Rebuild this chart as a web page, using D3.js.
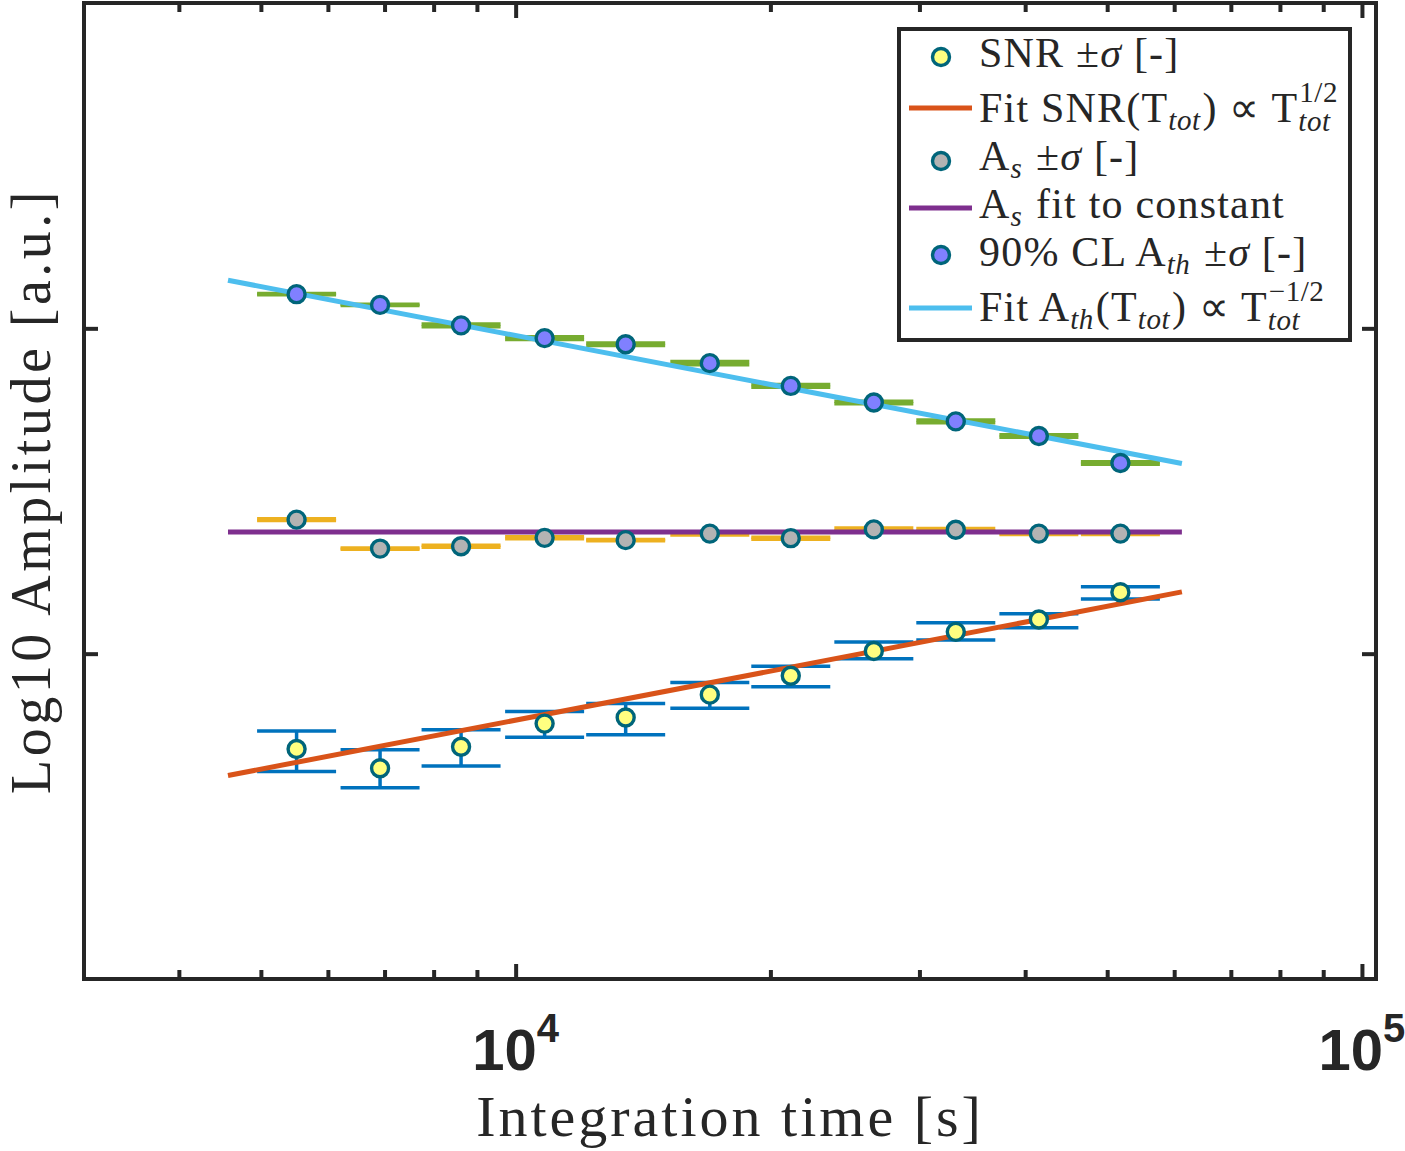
<!DOCTYPE html>
<html>
<head>
<meta charset="utf-8">
<title>SNR and amplitude vs integration time</title>
<script src="https://cdn.jsdelivr.net/npm/d3@7"></script>
<style>
  body { margin: 0; background: #fff; }
  svg { display: block; }
  .serif { font-family: "Liberation Serif", "Times New Roman", serif; fill: #262626; white-space: pre; }
  .ticklab { font-family: "Liberation Sans", Arial, sans-serif; font-weight: bold; fill: #262626; }
  .tick line { stroke: #262626; stroke-width: 4; }
</style>
</head>
<body>
<svg width="1405" height="1151"></svg>
<script>
// values (y values are log10 amplitude)
var timeS   = [5510, 6915, 8620, 10820, 13490, 16960, 21140, 26500, 33120, 41520, 51830];
var snr     = [0.707, 0.648, 0.714, 0.785, 0.804, 0.874, 0.932, 1.008, 1.067, 1.105, 1.189];
var snrLo   = [0.638, 0.588, 0.655, 0.743, 0.751, 0.832, 0.898, 0.984, 1.042, 1.080, 1.168];
var snrHi   = [0.762, 0.705, 0.766, 0.822, 0.847, 0.911, 0.961, 1.036, 1.095, 1.123, 1.206];
var ampS    = [1.412, 1.323, 1.330, 1.356, 1.349, 1.369, 1.355, 1.382, 1.381, 1.369, 1.369];
var ampSErr = [0.003, 0.002, 0.003, 0.003, 0.002, 0.004, 0.003, 0.004, 0.004, 0.003, 0.003];
var aTh     = [2.105, 2.072, 2.009, 1.970, 1.951, 1.893, 1.823, 1.772, 1.714, 1.669, 1.586];
var aThErr  = [0.002, 0.002, 0.004, 0.004, 0.004, 0.005, 0.004, 0.004, 0.004, 0.004, 0.004];

var fitT     = [4572, 61270];
var snrFit   = [0.6255, 1.1898];
var ampSFit  = [1.3738, 1.3738];
var aThFit   = [2.1477, 1.5846];

var xMajor = [1e4, 1e5];
var xMinor = [4000, 5000, 6000, 7000, 8000, 9000, 20000, 30000, 40000, 50000, 60000, 70000, 80000, 90000];
var xMajorExp = ["4", "5"];
var yTicks = [1, 2];

var svg = d3.select("svg");
var L = 84, R = 1376, T = 3, B = 979;

var x = d3.scaleLog().domain([3090, 103900]).range([L, R]);
var y = d3.scaleLinear().domain([0, 3]).range([B, T]);

var edge = "#00657a";
var capHalf = 39.5;

// ticks (inward, no labels)
function tickAxis(axis, tx, ty) {
  var g = svg.append("g").attr("transform", "translate(" + tx + "," + ty + ")").call(axis);
  g.select(".domain").remove();
  g.selectAll("text").remove();
  return g;
}
tickAxis(d3.axisBottom(x).tickValues(xMinor).tickSize(-9).tickFormat(""), 0, B);
tickAxis(d3.axisBottom(x).tickValues(xMajor).tickSize(-15).tickFormat(""), 0, B);
tickAxis(d3.axisTop(x).tickValues(xMinor).tickSize(-9).tickFormat(""), 0, T);
tickAxis(d3.axisTop(x).tickValues(xMajor).tickSize(-15).tickFormat(""), 0, T);
tickAxis(d3.axisLeft(y).tickValues(yTicks).tickSize(-14).tickFormat(""), L, 0);
tickAxis(d3.axisRight(y).tickValues(yTicks).tickSize(-14).tickFormat(""), R, 0);

// x tick labels 10^n
xMajor.forEach(function (v, i) {
  var t = svg.append("text").attr("class", "ticklab")
    .attr("x", x(v)).attr("y", 1070).attr("text-anchor", "middle")
    .style("font-size", "58px");
  t.append("tspan").text("10");
  t.append("tspan").attr("dy", -28).style("font-size", "40px").text(xMajorExp[i]);
});

// error bars
function errorBars(lo, hi, color, w) {
  var g = svg.append("g").attr("stroke", color).attr("stroke-width", w).attr("fill", "none");
  timeS.forEach(function (t, i) {
    var cx = x(t);
    g.append("line").attr("x1", cx).attr("x2", cx).attr("y1", y(lo[i])).attr("y2", y(hi[i]));
    g.append("line").attr("x1", cx - capHalf).attr("x2", cx + capHalf).attr("y1", y(lo[i])).attr("y2", y(lo[i]));
    g.append("line").attr("x1", cx - capHalf).attr("x2", cx + capHalf).attr("y1", y(hi[i])).attr("y2", y(hi[i]));
  });
}
errorBars(snrLo, snrHi, "#0072bd", 3.5);
errorBars(ampS.map(function (v, i) { return v - ampSErr[i]; }),
          ampS.map(function (v, i) { return v + ampSErr[i]; }), "#edb120", 3.5);
errorBars(aTh.map(function (v, i) { return v - aThErr[i]; }),
          aTh.map(function (v, i) { return v + aThErr[i]; }), "#77ac30", 3.5);

// fit lines
var line = d3.line().x(function (d) { return x(d[0]); }).y(function (d) { return y(d[1]); });
function fit(vals, color) {
  svg.append("path").datum(fitT.map(function (t, i) { return [t, vals[i]]; }))
    .attr("d", line).attr("fill", "none").attr("stroke", color).attr("stroke-width", 5);
}
fit(snrFit, "#d95319");
fit(ampSFit, "#7e2f8e");
fit(aThFit, "#4dbeee");

// markers
function markers(vals, fill) {
  svg.append("g").selectAll("circle").data(vals).enter().append("circle")
    .attr("cx", function (d, i) { return x(timeS[i]); })
    .attr("cy", function (d) { return y(d); })
    .attr("r", 8.5).attr("fill", fill).attr("stroke", edge).attr("stroke-width", 3.4);
}
markers(snr, "#ffff80");
markers(ampS, "#b3b3b3");
markers(aTh, "#8080ff");

// axes box
svg.append("rect").attr("x", L).attr("y", T).attr("width", R - L).attr("height", B - T)
  .attr("fill", "none").attr("stroke", "#262626").attr("stroke-width", 4);

// axis labels
svg.append("text").attr("class", "serif").attr("x", (L + R) / 2).attr("y", 1136)
  .attr("text-anchor", "middle").style("font-size", "58px").style("letter-spacing", "3px")
  .text("Integration time [s]");
svg.append("text").attr("class", "serif")
  .attr("transform", "translate(50," + ((T + B) / 2) + ") rotate(-90)")
  .attr("text-anchor", "middle").style("font-size", "56px").style("letter-spacing", "3.5px")
  .text("Log10 Amplitude [a.u.]");

// legend
var lg = svg.append("g");
lg.append("rect").attr("x", 899).attr("y", 29).attr("width", 451).attr("height", 311)
  .attr("fill", "#fff").attr("stroke", "#262626").attr("stroke-width", 4);

function put(s, px, py, size, italic) {
  var t = lg.append("text").attr("class", "serif").attr("x", px).attr("y", py)
    .style("font-size", size + "px").style("letter-spacing", size > 32 ? "1.2px" : "0.5px")
    .style("font-style", italic ? "italic" : "normal").text(s);
  return t.node().getComputedTextLength();
}
function mathLine(px, py, parts) {
  var cx = px;
  parts.forEach(function (p) {
    if (p.stack) {
      var a = put(p.sup, cx + 1, py - 20, 29, false);
      var b = put(p.sub, cx, py + 9, 29, true);
      cx += Math.max(a, b);
    } else if (p.sub) {
      cx += put(p.sub, cx, py + 8, 29, true) + 2;
    } else {
      cx += put(p.t, cx, py, 42, p.it);
    }
  });
}

var rows = [
  { y: 57, base: 67, kind: "m", fill: "#ffff80",
    parts: [{ t: "SNR ±" }, { t: "σ", it: true }, { t: " [-]" }] },
  { y: 108, base: 122, kind: "l", color: "#d95319",
    parts: [{ t: "Fit SNR(T" }, { sub: "tot" }, { t: ") ∝ T" }, { stack: true, sup: "1/2", sub: "tot" }] },
  { y: 161, base: 170, kind: "m", fill: "#b3b3b3",
    parts: [{ t: "A" }, { sub: "s" }, { t: " ±" }, { t: "σ", it: true }, { t: " [-]" }] },
  { y: 208, base: 218, kind: "l", color: "#7e2f8e",
    parts: [{ t: "A" }, { sub: "s" }, { t: " fit to constant" }] },
  { y: 255, base: 266, kind: "m", fill: "#8080ff",
    parts: [{ t: "90% CL A" }, { sub: "th" }, { t: " ±" }, { t: "σ", it: true }, { t: " [-]" }] },
  { y: 308, base: 321, kind: "l", color: "#4dbeee",
    parts: [{ t: "Fit A" }, { sub: "th" }, { t: "(T" }, { sub: "tot" }, { t: ") ∝ T" }, { stack: true, sup: "−1/2", sub: "tot" }] }
];
rows.forEach(function (r) {
  if (r.kind === "m") {
    lg.append("circle").attr("cx", 941).attr("cy", r.y).attr("r", 8.5)
      .attr("fill", r.fill).attr("stroke", edge).attr("stroke-width", 3.4);
  } else {
    lg.append("line").attr("x1", 909).attr("x2", 972).attr("y1", r.y).attr("y2", r.y)
      .attr("stroke", r.color).attr("stroke-width", 5);
  }
  mathLine(979, r.base, r.parts);
});
</script>
</body>
</html>
